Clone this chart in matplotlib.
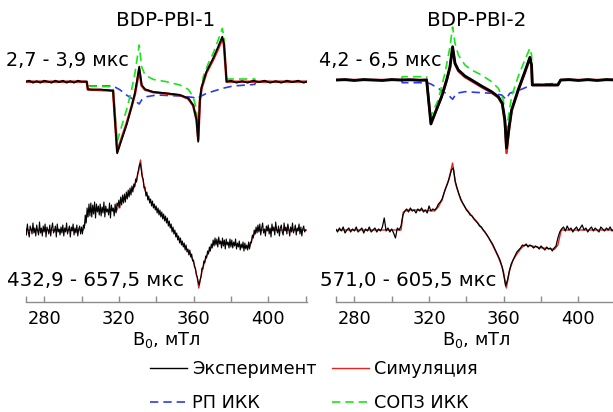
import numpy as np
import matplotlib
matplotlib.use("Agg")
import matplotlib.pyplot as plt
from matplotlib.lines import Line2D

plt.rcParams['font.family'] = ['DejaVu Sans']
plt.rcParams['mathtext.default'] = 'regular'

# ---------------- data (amplitudes in arbitrary units, B in mT) ----------------
titles = ["BDP-PBI-1", "BDP-PBI-2"]
top_labels = ["2,7 - 3,9 мкс", "4,2 - 6,5 мкс"]
bottom_labels = ["432,9 - 657,5 мкс", "571,0 - 605,5 мкс"]
xlabel = "B$_0$, мТл"
legend_labels = ["Эксперимент", "Симуляция", "РП ИКК", "СОПЗ ИКК"]
tick_major = [280, 320, 360, 400]
tick_minor = [270, 300, 340, 380, 420]

# --- BDP-PBI-1, early time window ---
l_top_exp_B = [270, 272, 274, 276, 278, 280, 282, 284, 286, 288, 290, 292, 294, 296, 298, 300, 302.8,
               303.4, 306, 310, 314, 316.9, 319.1, 321.4, 324.1, 326.8, 328.6, 329.8, 330.9,
               332.2, 334.0, 338.4, 345.5, 352.7, 357.2, 359.8, 361.6, 362.5,
               363.4, 364.3, 366.9, 370.5, 373.2, 375.4, 376.3, 377.7,
               380, 383, 386, 389, 392, 395, 398, 401, 404, 407, 410, 413, 416, 419, 420.5]
l_top_exp_y = [0, 1, -1, 0.5, -1, 1, 0, -1, 1, -0.5, 1, -1, 0.5, -1, 1, 0, 0,
               -7.6, -8, -7.8, -8.5, -9, -71.6, -58.3, -43.3, -25, -11.6, 1.7, 15,
               -3.3, -7.6, -10.3, -11.6, -13.3, -16.6, -23.3, -38.3, -60,
               -18.3, -5.6, 10, 23.3, 35, 45, 38, 0,
               1, -1, 0.5, -1, 1, -0.5, 1, -1, 0.5, -1, 1, -0.5, 1, -1, 0]
l_top_sim_B = [270, 302.8, 303.4, 316.9, 319.1, 321.4, 324.1, 326.8, 328.6, 329.8, 330.9,
               332.2, 334.0, 338.4, 345.5, 352.7, 357.2, 359.8, 361.6, 362.5,
               363.4, 364.3, 366.9, 370.5, 373.2, 375.4, 376.3, 377.7, 420.5]
l_top_sim_y = [0, 0, -7.8, -9, -70, -57, -42, -25, -12.5, 0, 12,
               -4, -8, -10.5, -12, -13.5, -17, -24, -38, -58,
               -19, -6.5, 9, 22, 33, 43, 37, 0, 0]
l_top_rp_B = [270, 302.9, 303.4, 316.9, 320.5, 324.1, 327.7, 330.9, 332.2, 334.9, 340.2,
              352.7, 359.8, 362.0, 363.4, 366.9, 375.4, 381.2, 392.8, 393.3, 420.5]
l_top_rp_y = [0, 0, -4.3, -4.3, -8, -13.3, -17.7, -22.3, -18.3, -15, -13.3,
              -14.3, -15.7, -17.3, -15, -11.7, -6.7, -4.3, -2.7, 0, 0]
l_top_sopz_B = [270, 302.9, 303.4, 316.9, 319.1, 321.4, 324.1, 326.8, 328.6, 329.8, 330.9,
                332.2, 334.0, 338.4, 345.5, 352.7, 357.2, 359.8, 361.6, 362.0,
                363.4, 365.2, 367.9, 370.5, 373.2, 375.4, 376.3, 377.7, 392.8, 393.3, 420.5]
l_top_sopz_y = [0, 0, -4.5, -5, -60, -45, -28.3, -8.3, 8.3, 23.3, 36.7,
                15, 6.7, 2.3, 0, -3.3, -7.7, -15, -28, -48,
                -18, 5, 18.3, 28.3, 41.7, 53.3, 45, 2.7, 2.7, 0, 0]

# --- BDP-PBI-2, early time window ---
r_top_exp_B = [270, 275, 280, 285, 290, 295, 300, 305, 310, 315, 318.7, 321.0, 323.2, 326.7,
               329.4, 331.2, 332.6, 333.9, 335.7, 339.2, 342.8, 348.1, 353.5, 357.1, 359.2,
               360.6, 361.5, 362.8, 364.2, 367.7, 371.3, 374.0, 374.9, 375.3, 380, 385, 389.0,
               390.5, 395, 400, 405, 410, 415, 420.5]
r_top_exp_y = [0, 0.5, -0.5, 0.5, 0, -0.5, 0.5, 0, 0.3, -0.3, 0, -44, -33.3, -16.7,
               0, 13.3, 33.3, 16.7, 10, 4, 0, -6, -11.7, -16.7, -23.3,
               -40, -68, -48, -30, -10, 8.3, 22.7, 15, -5, -5, -5, -5,
               0, 0.5, -0.5, 0.5, -0.5, 0.5, 0]
r_top_sim_B = [270, 318.7, 321.0, 323.2, 326.7, 329.4, 331.2, 332.6, 333.9, 335.7, 339.2,
               342.8, 348.1, 353.5, 357.1, 359.2, 360.6, 361.5, 362.8, 364.2, 367.7, 371.3,
               374.0, 374.9, 375.3, 389.0, 390.5, 420.5]
r_top_sim_y = [0, 0, -43, -33, -17, -1, 12, 32, 16, 9, 3,
               -1, -7, -12.5, -17.5, -24, -42, -73, -50, -31, -11, 7,
               21.5, 14, -5, -5, 0, 0]
r_top_rp_B = [270, 305.3, 305.6, 318.7, 321.0, 324.9, 330.3, 332.6, 334.7, 339.2, 353.5,
              358.9, 361.2, 363.2, 369.5, 374.9, 389.0, 390.5, 420.5]
r_top_rp_y = [0, 0, -2.7, -2.7, -4, -8.3, -15, -19.3, -13.3, -11.7, -13.3,
              -15, -19.3, -13.3, -9.3, -5, -3.3, 0, 0]
r_top_sopz_B = [270, 305.3, 305.6, 318.7, 320.5, 324.9, 328.5, 331.2, 332.6, 333.9, 335.7,
                339.2, 342.8, 348.1, 353.5, 357.1, 359.8, 361.2, 362.5, 364.2, 367.7, 371.3,
                374.0, 374.9, 375.3, 389.0, 390.5, 420.5]
r_top_sopz_y = [0, 0, 3.3, 3.3, -38, -20, 6.7, 33, 53, 36.7, 25,
                15, 10, 5, -1.7, -8.3, -20, -55, -36.7, -16.7, 3.3, 20,
                31.7, 25, -5, -5, 0, 0]

# --- BDP-PBI-1, late time window (experiment sampled every 0.5 mT from 270 to 420) ---
l_bot_B = [270 + 0.5 * k for k in range(301)]
l_bot_exp_y = [
    3, -5, 6, -2, -7, 4, 1, -4, 7, -3, 2, -6, 5, -1, -5, 8, -3, 2, -6, 4,
    -2, 6, -7, 3, 0, -4, 5, -6, 2, 7, -3, -1, 4, -7, 6, -2, 1, -5, 3, -3,
    5, -6, 2, -2, 7, -4, 0, 4, -7, 3, -1, 6, -5, 2, -3, 5, -6, 1, 4, -4,
    3, -4, 5, 2, 15, 7, 22, 13, 26, 14, 27, 13, 25, 16, 28, 12, 26, 18, 24, 15,
    26, 14, 23, 17, 28, 13, 24, 18, 21, 15, 27, 12, 25, 19, 22, 14, 26, 17, 27, 24,
    30, 22, 33, 25, 35, 27, 36, 28, 38, 31, 40, 33, 42, 35, 44, 38, 46, 43, 51, 48,
    56, 60, 65, 67, 60, 53, 51, 42, 43, 34, 38, 30, 34, 27, 31, 24, 29, 22, 26, 20,
    24, 17, 22, 15, 20, 13, 18, 11, 16, 9, 14, 7, 12, 4, 9, 2, 6, -2, 3, -4,
    0, -7, -3, -10, -6, -13, -8, -15, -11, -17, -13, -20, -15, -22, -19, -25, -20, -27, -24, -31,
    -30, -37, -38, -45, -47, -52, -55, -50, -47, -38, -39, -31, -33, -26, -28, -21, -24, -17, -21, -14,
    -18, -10, -16, -8, -15, -9, -17, -7, -14, -11, -18, -8, -16, -10, -19, -9, -15, -12, -18, -9,
    -17, -10, -18, -12, -16, -9, -19, -13, -17, -11, -20, -14, -18, -12, -21, -13, -19, -15, -20, -12,
    -19, -12, -13, -5, -8, 0, -4, 3, -3, 5, -2, 6, -5, 2, 7, -3, 1, -6, 4, -1,
    5, -4, 2, -7, 6, -1, 3, -5, 8, 0, -3, 4, -6, 2, 5, -2, -5, 7, -1, 3,
    -4, 6, 1, -6, 3, -2, 7, -3, 0, 5, -5, 2, -1, 6, -4, 3, -6, 1, 4, -2,
    0]
l_bot_sim_B = [270, 301, 303.5, 305, 308, 312, 316, 318.7, 320.5, 323, 325.9, 328, 329.4, 330.5,
               331.6, 332.5, 333.9, 336, 338.4, 342, 345.5, 349, 352.6, 355, 358, 360, 360.7,
               362, 362.8, 363.8, 365.1, 367, 368.7, 370, 372.3, 376, 381, 385, 388.4, 390,
               391.5, 393.7, 420.5]
l_bot_sim_y = [0, 0, 18.3, 19, 20.5, 20, 19.5, 19, 26.7, 31, 36.7, 42, 50, 58,
               70, 55, 40, 31, 25, 17, 10, 0, -10, -16, -23, -32, -36.7,
               -48, -58, -48, -37, -26, -20, -15, -11.7, -13, -14, -16, -17.3, -17,
               -8, 0, 0]

# --- BDP-PBI-2, late time window (experiment sampled every 1 mT) ---
r_bot_B = list(range(270, 421))
r_bot_exp_y = [1, -2, 2, -1, 3, -3, 0, 2, -2, 1, -1, 3, -2, 0, 2, -3, 1, -1, 3, -2,
               0, 2, -2, 1, -1, 3, 12, -1, 2, -2, 1, -3, -8, 2, 0, 4, 15, 19, 21, 18,
               22, 19, 20, 17, 21, 19, 22, 18, 20, 17, 24, 19, 21, 20, 22, 26, 28, 31, 37, 42,
               47, 53, 60, 62, 49, 42, 36, 31, 27, 24, 20, 18, 15, 14, 11, 9, 7, 4, 3, 0,
               -2, -5, -8, -11, -14, -18, -22, -26, -30, -36, -45, -56, -50, -41, -34, -30, -26, -22, -20, -18,
               -15, -16, -14, -17, -15, -16, -18, -16, -17, -19, -16, -18, -20, -17, -19, -18, -21, -18, -16, -8,
               -2, 1, 3, -1, 4, 0, 2, -2, 1, 3, -1, 2, 5, 0, 2, -2, 1, 3, -1, 2,
               0, -2, 3, 1, -1, 2, 0, 3, -1, 1, 0]
r_bot_sim_B = [270, 305, 306.2, 308.9, 315, 323, 324.9, 327, 328.5, 330.5, 332.6, 334, 334.7,
               337, 339.1, 343, 346.3, 349, 351.6, 354, 357, 359.7, 361.4, 363.2, 365, 366.7,
               369, 371.2, 375, 378.3, 383, 387.2, 389, 390.8, 420.5]
r_bot_sim_y = [0, 0, 18, 20, 20, 19, 23, 30, 40, 50, 67, 48, 43,
               30, 23, 14, 6.7, 0, -6.7, -15, -26.7, -40, -58, -40, -30, -25,
               -19, -15, -16, -17.3, -18.5, -19.3, -15, 0, 0]

panels = [
    dict(title=titles[0], tl=top_labels[0], bl=bottom_labels[0],
         top=(l_top_exp_B, l_top_exp_y, l_top_sim_B, l_top_sim_y, l_top_rp_B, l_top_rp_y,
              l_top_sopz_B, l_top_sopz_y),
         bot=(l_bot_B, l_bot_exp_y, l_bot_sim_B, l_bot_sim_y)),
    dict(title=titles[1], tl=top_labels[1], bl=bottom_labels[1],
         top=(r_top_exp_B, r_top_exp_y, r_top_sim_B, r_top_sim_y, r_top_rp_B, r_top_rp_y,
              r_top_sopz_B, r_top_sopz_y),
         bot=(r_bot_B, r_bot_exp_y, r_bot_sim_B, r_bot_sim_y)),
]

# ---------------- layout / style ----------------
W, H = 613, 412
fig = plt.figure(figsize=(W / 100, H / 100), dpi=100)

ax_left_px = [25.5, 335.7]
ax_w_px = 281.0
ax_bottom_px = 301.5
top_offsets = [219.8, 221.5]
bot_offset = 71.5

col_exp = "black"
col_sim = "#e8231f"
col_rp = "#2b3cf0"
col_sopz = "#19e619"

title_x = [166, 477]
tl_x = [6, 319]
bl_x = [7, 320]

for i, p in enumerate(panels):
    ax = fig.add_axes([ax_left_px[i] / W, (H - ax_bottom_px) / H, ax_w_px / W, ax_bottom_px / H])
    ax.set_xlim(270, 420.5)
    ax.set_ylim(0, ax_bottom_px)
    eB, ey, sB, sy, rB, ry, gB, gy = p["top"]
    off = top_offsets[i]
    lw_top = 1.3 if i == 0 else 2.0
    ax.plot(rB, np.array(ry) + off, color=col_rp, lw=1.2, ls=(0, (5, 3)), zorder=2)
    ax.plot(gB, np.array(gy) + off, color=col_sopz, lw=1.2, ls=(0, (5, 3)), zorder=2)
    ax.plot(sB, np.array(sy) + off, color=col_sim, lw=1.8, zorder=3)
    ax.plot(eB, np.array(ey) + off, color=col_exp, lw=lw_top, zorder=4)
    bB, by, bsB, bsy = p["bot"]
    ax.plot(bsB, np.array(bsy) + bot_offset, color=col_sim, lw=1.0, zorder=3)
    ax.plot(bB, np.array(by) + bot_offset, color=col_exp, lw=0.8 if i == 0 else 0.9, zorder=4)

    for s in ["left", "right", "top"]:
        ax.spines[s].set_visible(False)
    ax.spines["bottom"].set_color("#8c8c8c")
    ax.spines["bottom"].set_linewidth(1.0)
    ax.set_yticks([])
    ax.set_xticks(tick_major)
    ax.set_xticks(tick_minor, minor=True)
    ax.tick_params(axis="x", which="both", direction="in", length=4, width=1.0,
                   color="#8c8c8c", labelsize=12.8, pad=6)
    ax.tick_params(axis="x", which="minor", labelbottom=False)
    ax.set_xlabel(xlabel, fontsize=12.8, labelpad=1.5)
    ax.patch.set_alpha(0)

    fig.text(title_x[i] / W, 1 - 21 / H, p["title"], ha="center", va="center", fontsize=14.3)
    fig.text(tl_x[i] / W, 1 - 60 / H, p["tl"], ha="left", va="center", fontsize=13.8)
    fig.text(bl_x[i] / W, 1 - 281 / H, p["bl"], ha="left", va="center", fontsize=14.2)

handles = [
    Line2D([], [], color=col_exp, lw=1.0),
    Line2D([], [], color=col_rp, lw=1.2, ls=(0, (5, 3))),
    Line2D([], [], color=col_sim, lw=1.0),
    Line2D([], [], color=col_sopz, lw=1.2, ls=(0, (5, 3))),
]
labels = [legend_labels[0], legend_labels[2], legend_labels[1], legend_labels[3]]
fig.legend(handles, labels, ncol=2, frameon=False, fontsize=12.7,
           loc="center", bbox_to_anchor=(314 / W, 1 - 386 / H),
           handlelength=2.1, handletextpad=0.3, columnspacing=0.85, labelspacing=0.93)

fig.savefig("out.png", dpi=100)
